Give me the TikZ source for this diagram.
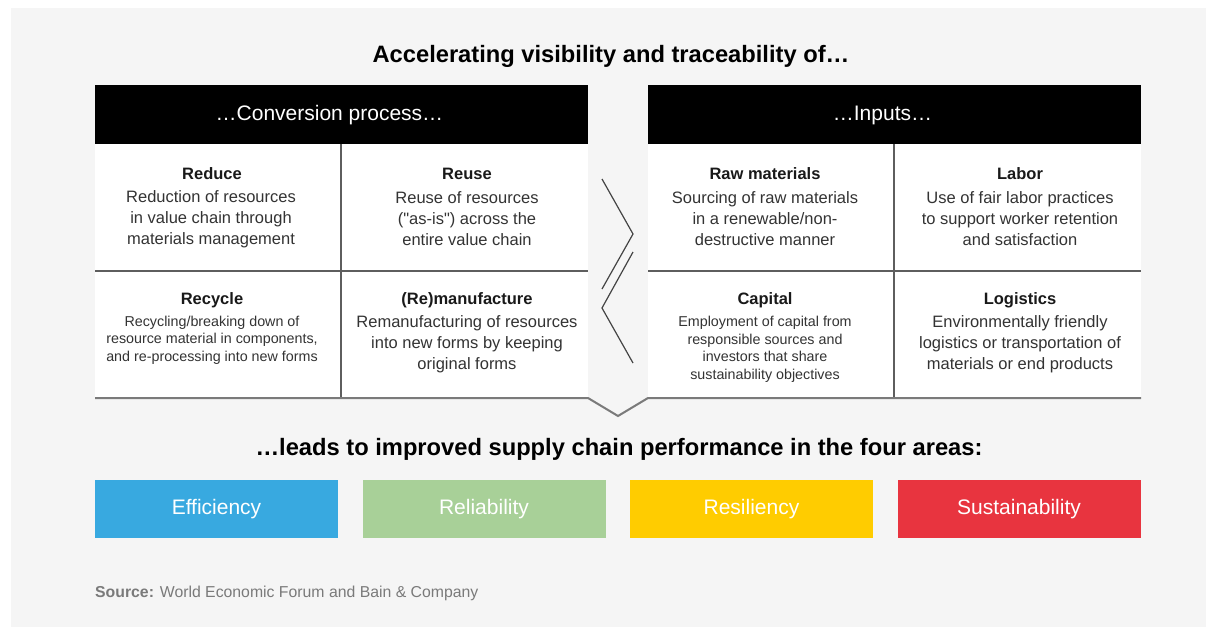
\documentclass[tikz,border=0pt]{standalone}
\usepackage{fontspec}
\setmainfont{Liberation Sans}
\newcommand{\sq}{{\addfontfeatures{Ligatures=TeXOff}"}}
\definecolor{panel}{HTML}{F5F5F5}
\definecolor{gridc}{HTML}{5E5E5E}
\definecolor{bottomc}{HTML}{7A7A7A}
\definecolor{zigc}{HTML}{444444}
\definecolor{bodyc}{HTML}{333333}
\definecolor{srcc}{HTML}{7A7A7A}
\definecolor{effc}{HTML}{38A9E0}
\definecolor{relc}{HTML}{A8D098}
\definecolor{resc}{HTML}{FFCC00}
\definecolor{susc}{HTML}{E8343F}
\begin{document}
\begin{tikzpicture}[x=1pt,y=-1pt,
  heading/.style={font=\bfseries\fontsize{23.7}{28}\selectfont, text=black, inner sep=0},
  hdrtext/.style={font=\fontsize{21}{25}\selectfont, text=white, inner sep=0},
  celltitle/.style={font=\bfseries\fontsize{16.5}{20}\selectfont, text=black!90, inner sep=0},
  celltext/.style={font=\fontsize{16.5}{21}\selectfont, text=bodyc, align=center, inner sep=0},
  smalltext/.style={font=\fontsize{14.3}{17.5}\selectfont, text=bodyc, align=center, inner sep=0},
  area/.style={minimum width=243pt, minimum height=58pt, inner sep=0, text=white, font=\fontsize{21}{25}\selectfont},
  gridline/.style={draw=gridc, line width=1.3pt},
  baseline/.style={draw=bottomc, line width=2pt, line join=miter},
  zig/.style={draw=zigc, line width=1.2pt}
]
\useasboundingbox (0,0) rectangle (1206,627);
\fill[white] (0,0) rectangle (1206,627);
\fill[panel] (11,8) rectangle (1206,627);

% title
\node[heading] (title) at (611,56) {Accelerating visibility and traceability of…};

% tables
\fill[white] (95,144) rectangle (588,398);
\fill[white] (648,144) rectangle (1141,398);
\fill[black] (95,85) rectangle (588,144);
\fill[black] (648,85) rectangle (1141,144);
\node[hdrtext] (hconv) at (329.5,115) {…Conversion process…};
\node[hdrtext] (hinp) at (882.5,115) {…Inputs…};

% grid lines
\draw[gridline] (95,271) -- (588,271);
\draw[gridline] (648,271) -- (1141,271);
\draw[gridline] (341,144) -- (341,398);
\draw[gridline] (894,144) -- (894,398);
\draw[baseline] (95,398) -- (588,398) -- (618,416) -- (648,398) -- (1141,398);

% zigzag
\draw[zig] (602,179) -- (633,234) -- (602,289);
\draw[zig] (633,252) -- (602,308) -- (633,363);

% left cells
\node[celltitle] (t1) at (212,174) {Reduce};
\node[celltext] (b1) at (211,219) {Reduction of resources\\in value chain through\\materials management};
\node[celltitle] (t2) at (467,174) {Reuse};
\node[celltext] (b2) at (467,219) {Reuse of resources\\(\sq as-is\sq) across the\\entire value chain};
\node[celltitle] (t3) at (212,300) {Recycle};
\node[smalltext] (b3) at (212,340) {Recycling/breaking down of\\resource material in components,\\and re-processing into new forms};
\node[celltitle] (t4) at (467,300) {(Re)manufacture};
\node[celltext] (b4) at (467,344) {Remanufacturing of resources\\into new forms by keeping\\original forms};

% right cells
\node[celltitle] (t5) at (765,174) {Raw materials};
\node[celltext] (b5) at (765,219) {Sourcing of raw materials\\in a renewable/non-\\destructive manner};
\node[celltitle] (t6) at (1020,174) {Labor};
\node[celltext] (b6) at (1020,219) {Use of fair labor practices\\to support worker retention\\and satisfaction};
\node[celltitle] (t7) at (765,300) {Capital};
\node[smalltext] (b7) at (765,349.5) {Employment of capital from\\responsible sources and\\investors that share\\sustainability objectives};
\node[celltitle] (t8) at (1020,300) {Logistics};
\node[celltext] (b8) at (1020,344) {Environmentally friendly\\logistics or transportation of\\materials or end products};

% second heading
\node[heading] (lead) at (619,449) {…leads to improved supply chain performance in the four areas:};

% areas
\node[area, fill=effc] (eff) at (216.5,509) {Efficiency};
\node[area, fill=relc] (rel) at (484,509) {Reliability};
\node[area, fill=resc] (res) at (751.5,509) {Resiliency};
\node[area, fill=susc] (sus) at (1019,509) {Sustainability};

% source
\node[anchor=west, inner sep=0, text=srcc, font=\fontsize{15.8}{18}\selectfont] (src) at (95,593) {\textbf{Source:} World Economic Forum and Bain \& Company};
\end{tikzpicture}
\end{document}
